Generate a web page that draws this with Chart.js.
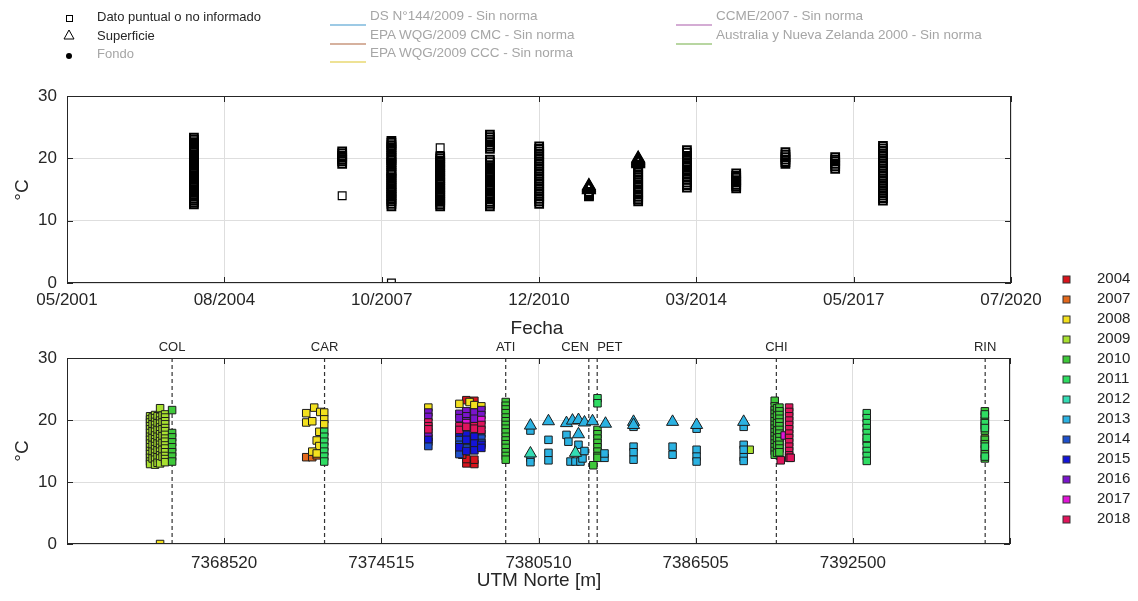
<!DOCTYPE html>
<html>
<head>
<meta charset="utf-8">
<script src="https://cdn.jsdelivr.net/npm/chart.js@4.4.1/dist/chart.umd.min.js"></script>
<style>
    body { margin: 0; background: #fff; width: 1138px; height: 601px; overflow: hidden; position: relative;
           font-family: "Liberation Sans", Arial, sans-serif; color: #262626; }
    canvas { position: absolute; left: 0; top: 0; }
    .t { position: absolute; white-space: nowrap; line-height: 1; }
</style>
</head>
<body>
<canvas id="fechaChart" width="1138" height="601"></canvas>
<canvas id="utmChart" width="1138" height="601"></canvas>
<div id="texts"></div>
<script>
// ---- top panel: temperature by sampling date ----
const dateTicks = [2001.333, 2004.528, 2007.722, 2010.917, 2014.111, 2017.306, 2020.5];
const dateTickLabels = ['05/2001', '08/2004', '10/2007', '12/2010', '03/2014', '05/2017', '07/2020'];

const sqNov2003 = [23.3, 23.0, 22.6, 22.3, 21.9, 21.6, 21.2, 20.9, 20.5, 20.2, 19.8, 19.5, 19.1, 18.8, 18.4, 18.1, 17.7, 17.3, 17.0, 16.7, 16.3, 16.0, 15.6, 15.3, 14.9, 14.6, 14.2, 13.9, 13.5, 13.2, 12.9, 12.6];
const sqNov2006 = [21.1, 20.8, 20.4, 20.1, 19.8, 19.5, 19.1, 14.0];
const sqNov2007 = [22.8, 22.5, 22.1, 21.8, 21.4, 21.1, 20.4, 20.1, 19.7, 19.4, 19.0, 18.7, 18.0, 17.7, 17.4, 17.0, 16.7, 16.3, 15.9, 15.5, 15.2, 14.8, 14.5, 14.1, 13.8, 13.4, 13.1, 12.7, 12.3, 0.0];
const sqNov2008 = [21.7, 20.3, 20.0, 19.6, 19.3, 18.9, 18.6, 18.2, 17.9, 17.5, 17.2, 16.8, 16.5, 16.1, 15.8, 15.4, 15.1, 14.7, 14.4, 14.0, 13.7, 13.3, 13.0, 12.6, 12.3];
const sqNov2009 = [23.8, 23.4, 23.0, 22.6, 22.2, 21.9, 21.5, 19.8, 19.4, 18.9, 18.6, 18.3, 17.9, 17.6, 17.2, 16.9, 16.5, 16.2, 15.8, 15.5, 15.1, 14.8, 14.4, 14.1, 13.7, 13.4, 13.0, 12.7, 12.3];
const sqNov2010 = [21.9, 21.5, 21.1, 20.7, 20.3, 19.9, 19.5, 19.1, 18.7, 18.3, 17.9, 17.5, 17.1, 16.7, 16.3, 15.9, 15.5, 15.1, 14.7, 14.3, 13.9, 13.5, 13.1, 12.7];
const sqNov2011 = [14.6, 14.4, 14.2, 14.0, 13.9];
const sqNov2012 = [19.0, 18.6, 18.2, 17.8, 17.4, 17.0, 16.6, 16.2, 15.8, 15.4, 15.0, 14.6, 14.2, 13.8, 13.4, 13.1];
const sqNov2013 = [21.3, 20.9, 20.4, 19.9, 19.4, 18.9, 18.5, 18.0, 17.5, 17.0, 16.6, 16.1, 15.7, 15.3];
const sqNov2014 = [17.6, 17.2, 16.9, 16.5, 16.2, 15.8, 15.5, 15.2];
const sqNov2015 = [21.0, 20.6, 20.2, 19.8, 19.4, 19.1];
const sqNov2016 = [20.2, 19.8, 19.5, 19.1, 18.7, 18.3];
const sqNov2017 = [22.0, 21.6, 21.2, 20.8, 20.4, 20.0, 19.6, 19.2, 18.8, 18.4, 18.0, 17.6, 17.2, 16.8, 16.4, 16.0, 15.6, 15.2, 14.8, 14.4, 14.0, 13.6, 13.2];
const triNov2011 = [14.9, 15.0, 15.1, 15.2, 15.3, 15.4, 15.5, 15.6];
const triNov2012 = [19.1, 19.2, 19.3, 19.4, 19.5, 19.6, 19.7, 19.8, 19.9, 20.0];

const squareColumns = [
    [2003.91, sqNov2003], [2006.92, sqNov2006], [2007.92, sqNov2007], [2008.91, sqNov2008],
    [2009.92, sqNov2009], [2010.92, sqNov2010], [2011.93, sqNov2011], [2012.93, sqNov2012],
    [2013.92, sqNov2013], [2014.92, sqNov2014], [2015.92, sqNov2015], [2016.93, sqNov2016],
    [2017.90, sqNov2017]
];
const triangleColumns = [[2011.93, triNov2011], [2012.93, triNov2012]];

// ---- bottom panel: temperature by UTM north coordinate ----
const utmTicks = [7362525, 7368520, 7374515, 7380510, 7386505, 7392500, 7398495];
const utmTickLabels = ['', '7368520', '7374515', '7380510', '7386505', '7392500', ''];
const stations = ['COL', 'CAR', 'ATI', 'CEN', 'PET', 'CHI', 'RIN'];
const stationUtm = [7366534, 7372349, 7379259, 7382429, 7382749, 7389583, 7397548];
const stationAlign = ['center', 'center', 'center', 'right', 'left', 'center', 'center'];

const years = ['2004', '2007', '2008', '2009', '2010', '2011', '2012', '2013', '2014', '2015', '2016', '2017', '2018'];
const yearColors = ['#d8141c', '#e2681c', '#f2e01e', '#a8e030', '#3ec83a', '#2edc62', '#34dcb4', '#2bb2e2',
                    '#1e50cc', '#1414d8', '#7a14cc', '#e014d6', '#e0145c'];

function stack(x, values) {
    return values.map(v => [x, v]);
}

const sq2004 = [[7377758, 13.0], [7377758, 13.7], [7378064, 12.9], [7378064, 13.6], [7377600, 14.4], [7377758, 23.2], [7378064, 23.1]];
const sq2007 = [[7371650, 14.0], [7371880, 14.0], [7372050, 14.3]];
const sq2008 = [[7371955, 22.0], [7371650, 21.1], [7372185, 21.3], [7372337, 21.2], [7371650, 19.6], [7371880, 19.8],
                [7372337, 20.1], [7372337, 19.3], [7372150, 18.1], [7372050, 16.7], [7372150, 15.8], [7371880, 14.9],
                [7372050, 14.6], [7366076, 0.0], [7376308, 22.0], [7377491, 22.6], [7377880, 22.9], [7378064, 22.4],
                [7378331, 22.2]];
const sq2009 = [
    ...stack(7365694, [20.6, 20.1, 19.6, 19.0, 18.5, 17.9, 17.3, 16.8, 16.2, 15.6, 15.0, 14.5, 13.9, 13.3, 12.9]),
    ...stack(7365790, [20.4, 19.3, 18.2, 17.1, 16.0, 14.9, 13.8]),
    ...stack(7365885, [20.8, 20.3, 19.7, 19.2, 18.6, 18.1, 17.5, 16.9, 16.4, 15.8, 15.3, 14.7, 14.1, 13.6, 12.8]),
    ...stack(7365980, [20.6, 19.5, 18.4, 17.3, 16.2, 15.1, 14.0, 13.1]),
    ...stack(7366076, [21.9, 20.5, 19.9, 19.4, 18.8, 18.3, 17.7, 17.1, 16.6, 16.0, 15.5, 14.9, 14.3, 13.8, 13.0]),
    ...stack(7366170, [20.7, 19.6, 18.5, 17.4, 16.3, 15.2, 14.1]),
    ...stack(7366267, [20.9, 20.4, 19.8, 19.3, 18.7, 18.2, 17.6, 17.0, 16.5, 15.9, 15.4, 14.8, 14.2, 13.7, 13.2]),
    [7388565, 15.2], [7397536, 17.0], [7393031, 16.6]
];
const sq2010 = [
    ...stack(7366534, [21.6, 17.9, 17.2, 16.4, 15.6, 14.8, 14.1, 13.3]),
    ...stack(7379259, [22.9, 22.3, 21.7, 21.1, 20.4, 19.8, 19.2, 18.6, 18.0, 17.3, 16.7, 16.1, 15.5, 14.8, 14.2, 13.6]),
    ...stack(7382760, [18.4, 17.7, 17.0, 16.3, 15.6, 14.9, 14.2, 13.9]),
    [7382600, 12.7],
    ...stack(7389520, [23.1, 22.2, 21.6, 21.0, 20.4, 19.8, 19.2, 18.6, 18.0, 17.4, 16.8, 16.2, 15.6, 15.0, 14.4]),
    ...stack(7389610, [21.9, 20.7, 19.5, 18.3, 17.1, 15.9, 14.7]),
    ...stack(7389700, [22.0, 21.4, 20.8, 20.2, 19.6, 19.0, 18.4, 17.8, 17.2, 16.6, 16.0, 15.4, 14.8]),
    ...stack(7397536, [21.4, 20.6, 19.9, 19.1, 18.3, 16.8, 16.1, 15.3, 14.5, 13.8])
];
const sq2011 = [
    ...stack(7372337, [18.1, 17.3, 16.5, 15.7, 14.9, 14.1, 13.3]),
    [7382760, 23.5], [7382760, 22.7],
    ...stack(7393031, [21.1, 20.3, 19.5, 18.7, 17.9, 17.1, 15.8, 15.0, 14.2, 13.4]),
    ...stack(7397536, [20.9, 19.5, 18.7, 15.7, 14.1])
];
const tri2012 = [[7380202, 14.6], [7381920, 14.7]];
const sq2013 = [
    [7380202, 18.3], [7380202, 13.9], [7380202, 13.2],
    [7380890, 16.8], [7380890, 14.7], [7380890, 13.5],
    [7381577, 17.6], [7381650, 16.5], [7381730, 13.3], [7381920, 13.3], [7382111, 13.3], [7382188, 13.8],
    [7382035, 16.0], [7382264, 15.0], [7383028, 13.9], [7383028, 14.6],
    [7384135, 18.9], [7384135, 15.7], [7384135, 14.8], [7384135, 13.6],
    [7385624, 15.7], [7385624, 14.4],
    [7386541, 18.6], [7386541, 15.2], [7386541, 14.1], [7386541, 13.3],
    [7388336, 18.9], [7388336, 16.0], [7388336, 15.2], [7388336, 14.0], [7388336, 13.4]
];
const tri2013 = [[7380202, 19.1], [7380890, 19.8], [7381577, 19.5], [7381806, 19.9], [7382035, 20.0],
                 [7382264, 19.6], [7382570, 19.8], [7383066, 19.4], [7382035, 17.7], [7384135, 19.7],
                 [7384135, 19.2], [7385624, 19.7], [7386541, 19.2], [7388336, 19.7]];
const sq2014 = [[7376308, 17.2], [7376308, 16.5], [7376308, 15.8],
                ...stack(7377491, [17.5, 16.8, 16.0, 15.2, 14.5]), ...stack(7377758, [17.0, 16.2, 15.4]),
                ...stack(7378064, [16.6, 15.8]), ...stack(7378331, [17.8, 17.0, 16.3])];
const sq2015 = [[7376308, 16.9], ...stack(7377491, [18.0, 15.6]), ...stack(7377758, [17.6, 16.8, 15.0]),
                ...stack(7378064, [17.3, 16.2, 15.1]), ...stack(7378331, [16.0, 15.5])];
const sq2016 = [[7376308, 21.2], [7376308, 20.5], [7376308, 18.0],
                ...stack(7377491, [21.0, 20.3]), ...stack(7377758, [21.4, 20.6, 19.8]),
                ...stack(7378064, [21.2, 20.2]), ...stack(7378331, [21.6, 20.8])];
const sq2017 = [[7377758, 19.5], [7378331, 20.0], [7389900, 17.5]];
const sq2018 = [[7376308, 19.6], [7376308, 19.0], [7376308, 18.5],
                ...stack(7377491, [19.0, 18.4]), [7377758, 18.9], ...stack(7378064, [19.0, 18.6]),
                ...stack(7378331, [19.2, 18.4]),
                ...stack(7390070, [22.0, 21.3, 20.6, 19.9, 19.2, 18.5, 17.8, 17.1, 16.4, 15.7, 15.0, 14.3, 13.9]),
                [7389750, 13.5], [7390129, 13.9]];

const squaresByYear = [sq2004, sq2007, sq2008, sq2009, sq2010, sq2011, [], sq2013, sq2014, sq2015, sq2016, sq2017, sq2018];
const trianglesByYear = { '2012': tri2012, '2013': tri2013 };

const legendShapes = ['Dato puntual o no informado', 'Superficie', 'Fondo'];
const normLabels = ['DS N°144/2009 - Sin norma', 'EPA WQG/2009 CMC - Sin norma', 'EPA WQG/2009 CCC - Sin norma',
                    'CCME/2007 - Sin norma', 'Australia y Nueva Zelanda 2000 - Sin norma'];
const normColors = ['#7db9dd', '#c9977e', '#e8d872', '#c690c6', '#a0c882'];

const FONT = '"Liberation Sans", Arial, sans-serif';
const INK = '#262626';

// MATLAB-like box with inward ticks
const boxPlugin = {
    id: 'box',
    afterDraw(chart) {
        const { ctx, chartArea: a, scales } = chart;
        ctx.save();
        ctx.strokeStyle = INK;
        ctx.lineWidth = 1;
        ctx.strokeRect(a.left + 0.5, a.top + 0.5, a.right - a.left - 1, a.bottom - a.top - 1);
        ctx.beginPath();
        scales.x.ticks.forEach(t => {
            const px = Math.round(scales.x.getPixelForValue(t.value)) + 0.5;
            ctx.moveTo(px, a.top); ctx.lineTo(px, a.top + 6);
            ctx.moveTo(px, a.bottom); ctx.lineTo(px, a.bottom - 6);
        });
        scales.y.ticks.forEach(t => {
            const py = Math.round(scales.y.getPixelForValue(t.value)) + 0.5;
            ctx.moveTo(a.left, py); ctx.lineTo(a.left + 6, py);
            ctx.moveTo(a.right, py); ctx.lineTo(a.right - 6, py);
        });
        ctx.stroke();
        ctx.restore();
    }
};

const stationPlugin = {
    id: 'stations',
    afterDraw(chart) {
        if (chart.canvas.id !== 'utmChart') return;
        const { ctx, chartArea: a, scales } = chart;
        ctx.save();
        ctx.fillStyle = INK;
        ctx.font = '13px ' + FONT;
        ctx.textBaseline = 'middle';
        stations.forEach((s, i) => {
            ctx.textAlign = stationAlign[i];
            ctx.fillText(s, scales.x.getPixelForValue(stationUtm[i]), a.top - 11);
        });
        ctx.restore();
    }
};

function yAxis() {
    return {
        min: 0, max: 30,
        afterFit(scale) { scale.width = 67; },
        ticks: { stepSize: 10, padding: 10, color: INK, font: { family: FONT, size: 17 } },
        grid: { color: '#dedede', drawTicks: false },
        border: { display: false }
    };
}

function xAxis(ticks, labels, height, pad) {
    return {
        type: 'linear',
        min: ticks[0], max: ticks[ticks.length - 1],
        afterBuildTicks(scale) { scale.ticks = ticks.map(v => ({ value: v })); },
        afterFit(scale) { scale.height = height; },
        ticks: {
            autoSkip: false, maxRotation: 0, padding: pad, color: INK,
            font: { family: FONT, size: 17 },
            callback: (v, i) => labels[i]
        },
        grid: { color: '#dedede', drawTicks: false },
        border: { display: false }
    };
}

function baseOptions(padding, xScale) {
    return {
        responsive: false,
        devicePixelRatio: 1,
        animation: false,
        layout: { padding: padding },
        plugins: { legend: { display: false }, tooltip: { enabled: false } },
        scales: { x: xScale, y: yAxis() }
    };
}

// crowded open markers overlap into solid black; lone ones stay thin
function edgeWidth(ctx) {
    const y = ctx.raw ? ctx.raw.y : null;
    const crowded = ctx.dataset.data.some(p => p !== ctx.raw && Math.abs(p.y - y) < 1);
    return crowded ? 2 : 1.2;
}

// top chart datasets: open markers, as in the original figure
const topDatasets = [];
squareColumns.forEach(([d, vals]) => {
    topDatasets.push({
        data: vals.map(v => ({ x: d, y: v })),
        pointStyle: 'rect', pointRadius: 5.5, backgroundColor: 'rgba(0,0,0,0)',
        borderColor: '#000000', pointBorderWidth: edgeWidth, order: 2
    });
});
triangleColumns.forEach(([d, vals]) => {
    topDatasets.push({
        data: vals.map(v => ({ x: d, y: v })),
        pointStyle: 'triangle', pointRadius: 7, backgroundColor: 'rgba(0,0,0,0)',
        borderColor: '#000000', borderWidth: 1.5, order: 1
    });
});

new Chart(document.getElementById('fechaChart'), {
    type: 'scatter',
    data: { datasets: topDatasets },
    options: baseOptions({ left: 0, right: 127, top: 96, bottom: 0 }, xAxis(dateTicks, dateTickLabels, 318, 7)),
    plugins: [boxPlugin]
});

// bottom chart datasets
const utmDatasets = [];
stationUtm.forEach(u => {
    utmDatasets.push({
        type: 'line',
        data: [{ x: u, y: 0 }, { x: u, y: 30 }],
        borderColor: '#333333', borderWidth: 1.2, borderDash: [4, 3],
        pointRadius: 0, order: 100
    });
});
years.forEach((yr, i) => {
    utmDatasets.push({
        data: squaresByYear[i].map(p => ({ x: p[0], y: p[1] })),
        pointStyle: 'rect', pointRadius: 5.3, backgroundColor: yearColors[i],
        borderColor: '#1c1c1c', borderWidth: 1, order: 50 - i
    });
    if (trianglesByYear[yr]) {
        utmDatasets.push({
            data: trianglesByYear[yr].map(p => ({ x: p[0], y: p[1] })),
            pointStyle: 'triangle', pointRadius: 7, backgroundColor: yearColors[i],
            borderColor: '#1c1c1c', borderWidth: 1, order: 10 - i
        });
    }
});

new Chart(document.getElementById('utmChart'), {
    type: 'scatter',
    data: { datasets: utmDatasets },
    options: baseOptions({ left: 0, right: 128, top: 358, bottom: 0 }, xAxis(utmTicks, utmTickLabels, 57, 9)),
    plugins: [boxPlugin, stationPlugin]
});

// texts: axis titles and legends
const texts = document.getElementById('texts');
function addText(str, x, y, css) {
    const el = document.createElement('div');
    el.className = 't';
    el.textContent = str;
    el.style.left = x + 'px';
    el.style.top = y + 'px';
    Object.assign(el.style, css || {});
    texts.appendChild(el);
    return el;
}
function addSvg(html, x, y, w, h) {
    const el = document.createElement('div');
    el.className = 't';
    el.style.left = x + 'px';
    el.style.top = y + 'px';
    el.innerHTML = '<svg width="' + w + '" height="' + h + '">' + html + '</svg>';
    texts.appendChild(el);
}

addText('Fecha', 537, 327, { fontSize: '19px', transform: 'translate(-50%,-50%)' });
addText('UTM Norte [m]', 539, 579, { fontSize: '19px', transform: 'translate(-50%,-50%)' });
addText('°C', 21, 190, { fontSize: '19px', transform: 'translate(-50%,-50%) rotate(-90deg)' });
addText('°C', 21, 451, { fontSize: '19px', transform: 'translate(-50%,-50%) rotate(-90deg)' });

// shape legend
const rowY = [16, 35, 53];
addSvg('<rect x="1.5" y="1.5" width="6" height="6" fill="#fff" stroke="#000" stroke-width="1"/>', 65, rowY[0] - 5, 10, 10);
addSvg('<polygon points="6,1 11,10 1,10" fill="#fff" stroke="#000" stroke-width="1"/>', 63, rowY[1] - 7, 12, 12);
addSvg('<circle cx="5" cy="5" r="3" fill="#000"/>', 64, rowY[2] - 5, 10, 10);
legendShapes.forEach((s, i) => {
    addText(s, 97, rowY[i], { fontSize: '13px', transform: 'translateY(-50%)', color: i === 2 ? '#a6a6a6' : INK });
});

// norms legend
normLabels.forEach((s, i) => {
    const col = i < 3 ? 0 : 1;
    const row = i < 3 ? i : i - 3;
    const lx = col === 0 ? 330 : 676;
    addSvg('<line x1="0" y1="2" x2="36" y2="2" stroke="' + normColors[i] + '" stroke-width="1.5"/>', lx, rowY[row] - 2, 36, 4);
    addText(s, lx + 40, rowY[row], { fontSize: '13.5px', transform: 'translateY(-50%)', color: '#a6a6a6' });
});

// year legend
years.forEach((yr, i) => {
    const y = 277 + i * 20;
    addSvg('<rect x="1" y="1" width="7" height="7" fill="' + yearColors[i] + '" stroke="#333" stroke-width="1"/>', 1062, y - 5, 10, 10);
    addText(yr, 1097, y, { fontSize: '15px', transform: 'translateY(-50%)' });
});
</script>
</body>
</html>
